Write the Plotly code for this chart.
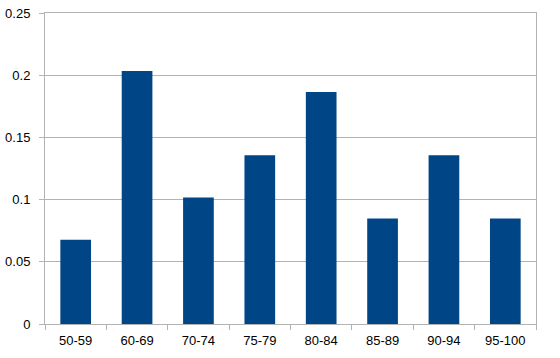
import plotly.graph_objects as go

categories = ["50-59", "60-69", "70-74", "75-79", "80-84", "85-89", "90-94", "95-100"]
values = [4/59, 12/59, 6/59, 8/59, 11/59, 5/59, 8/59, 5/59]

fig = go.Figure(go.Bar(x=categories, y=values, marker=dict(color="#004586", line=dict(width=0))))

grid = "#b3b3b3"
fig.update_layout(
    template="none",
    width=560, height=358,
    margin=dict(l=45, r=24, t=13, b=34, autoexpand=False),
    paper_bgcolor="white", plot_bgcolor="white",
    bargap=0.5,
    showlegend=False,
    font=dict(family="Liberation Sans, Arial, sans-serif", size=13, color="black"),
    xaxis=dict(
        automargin=False,
        showline=True, linecolor=grid, linewidth=1, mirror=True,
        ticks="outside", tickson="boundaries", ticklen=5, tickcolor=grid,
        showgrid=False, ticklabelstandoff=4,
    ),
    yaxis=dict(
        automargin=False,
        range=[0, 0.25], dtick=0.05,
        showline=True, linecolor=grid, linewidth=1, mirror=True,
        ticks="outside", ticklen=5, tickcolor=grid,
        showgrid=True, gridcolor=grid, gridwidth=1, zeroline=False,
        ticklabelstandoff=6,
    ),
)

fig.write_html("out.html")
